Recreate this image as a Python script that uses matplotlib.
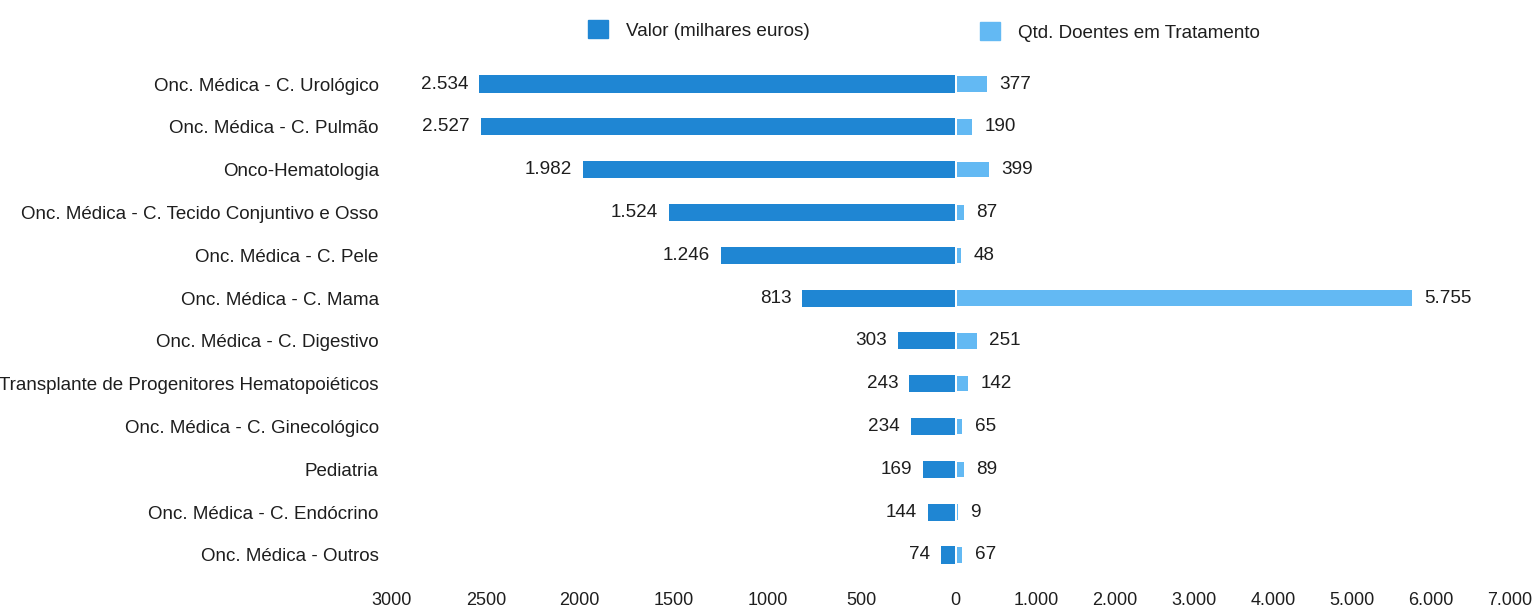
import matplotlib
matplotlib.use("Agg")
import matplotlib.pyplot as plt
import matplotlib.transforms as mtransforms
from matplotlib.patches import Patch
from matplotlib.ticker import FixedLocator, FixedFormatter

plt.rcParams['font.family'] = ['Liberation Sans', 'DejaVu Sans']

categories = [
    "Onc. Médica - C. Urológico",
    "Onc. Médica - C. Pulmão",
    "Onco-Hematologia",
    "Onc. Médica - C. Tecido Conjuntivo e Osso",
    "Onc. Médica - C. Pele",
    "Onc. Médica - C. Mama",
    "Onc. Médica - C. Digestivo",
    "Transplante de Progenitores Hematopoiéticos",
    "Onc. Médica - C. Ginecológico",
    "Pediatria",
    "Onc. Médica - C. Endócrino",
    "Onc. Médica - Outros",
]
valor = [2534, 2527, 1982, 1524, 1246, 813, 303, 243, 234, 169, 144, 74]
doentes = [377, 190, 399, 87, 48, 5755, 251, 142, 65, 89, 9, 67]

left_ticks = [3000, 2500, 2000, 1500, 1000, 500, 0]
right_ticks = [1000, 2000, 3000, 4000, 5000, 6000, 7000]

dark_blue = "#1f86d3"
light_blue = "#63b9f3"
text_color = "#1e1e1e"
fs = 13.6


def pt(v):
    return f"{v:,}".replace(",", ".")


W, H = 1534, 609
fig = plt.figure(figsize=(W / 100, H / 100), dpi=100)

y_top, y_bot = 62.6, 576.4
ax_l = fig.add_axes([392 / W, (H - y_bot) / H, (955 - 392) / W, (y_bot - y_top) / H])
ax_r = fig.add_axes([957 / W, (H - y_bot) / H, (1510 - 957) / W, (y_bot - y_top) / H])

pos = list(range(len(categories)))

bl = ax_l.barh(pos, valor, height=0.40, color=dark_blue)
br = ax_r.barh(pos, doentes, height=0.36, color=light_blue)

ax_l.set_xlim(3000, 0)
ax_r.set_xlim(0, 7000)
for ax in (ax_l, ax_r):
    ax.set_ylim(len(categories) - 0.5, -0.5)
    for s in ax.spines.values():
        s.set_visible(False)
    ax.tick_params(axis="both", length=0, labelsize=13, colors=text_color)

ax_l.set_yticks(pos)
ax_l.set_yticklabels(categories)
ax_l.tick_params(axis="y", pad=9.5, labelsize=13.5)
ax_l.xaxis.set_major_locator(FixedLocator(left_ticks))
ax_l.xaxis.set_major_formatter(FixedFormatter([str(t) for t in left_ticks]))
ax_l.tick_params(axis="x", pad=11)

ax_r.set_yticks([])
ax_r.xaxis.set_major_locator(FixedLocator(right_ticks))
ax_r.xaxis.set_major_formatter(FixedFormatter([pt(t) for t in right_ticks]))
ax_r.tick_params(axis="x", pad=11)

ax_l.bar_label(bl, labels=[pt(v) for v in valor], padding=8, fontsize=fs, color=text_color)
right_labels = ax_r.bar_label(br, labels=[pt(v) for v in doentes], padding=9,
                              fontsize=fs, color=text_color)
# nudge the patient-count labels slightly below the bar centre line
for t in right_labels:
    t.set_transform(t.get_transform() + mtransforms.ScaledTranslation(0, -2 / 100, fig.dpi_scale_trans))

leg_kw = dict(frameon=False, fontsize=fs, handlelength=1.05, handleheight=1.05,
              handletextpad=0.95, borderpad=0, borderaxespad=0, loc="center left")
leg1 = fig.legend(handles=[Patch(color=dark_blue, label="Valor (milhares euros)")],
                  bbox_to_anchor=(588 / W, 1 - 30 / H), **leg_kw)
leg2 = fig.legend(handles=[Patch(color=light_blue, label="Qtd. Doentes em Tratamento")],
                  bbox_to_anchor=(980 / W, 1 - 32 / H), **leg_kw)
for lg in (leg1, leg2):
    for t in lg.get_texts():
        t.set_color(text_color)

fig.savefig("out.png", dpi=100, facecolor="white")
